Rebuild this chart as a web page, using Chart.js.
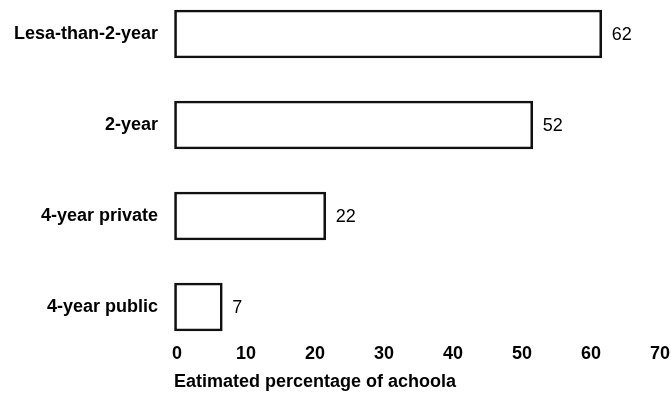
<!DOCTYPE html>
<html>
<head>
<meta charset="utf-8">
<script src="https://cdn.jsdelivr.net/npm/chart.js@4/dist/chart.umd.min.js"></script>
<style>
  html, body { margin: 0; padding: 0; background: #fff; }
</style>
</head>
<body>
<canvas id="chart" width="671" height="397"></canvas>
<script>
const categories = ['Lesa-than-2-year', '2-year', '4-year private', '4-year public'];
const percentages = [62, 52, 22, 7];
const xMin = 0;
const xMax = 70;
const xStep = 10;
const axisTitle = 'Eatimated percentage of achoola';

// writes the value just right of each bar
const valueLabels = {
    id: 'valueLabels',
    afterDatasetsDraw(chart) {
        const ctx = chart.ctx;
        ctx.save();
        ctx.font = '18px "Liberation Sans", Arial, sans-serif';
        ctx.fillStyle = '#000';
        ctx.textAlign = 'left';
        ctx.textBaseline = 'middle';
        chart.getDatasetMeta(0).data.forEach((bar, i) => {
            ctx.fillText(String(percentages[i]), bar.x + 10, bar.y + 1);
        });
        ctx.restore();
    }
};

const boldFont = { family: '"Liberation Sans", Arial, sans-serif', size: 18, weight: 'bold' };

new Chart(document.getElementById('chart'), {
    type: 'bar',
    data: {
        labels: categories,
        datasets: [{
            data: percentages,
            backgroundColor: 'rgba(255,255,255,0)',
            borderColor: '#111',
            borderWidth: 2,
            borderSkipped: false,
            barThickness: 48,
            clip: false
        }]
    },
    options: {
        indexAxis: 'y',
        responsive: false,
        animation: false,
        layout: { padding: { top: 34, right: 14, bottom: 0, left: 0 } },
        plugins: {
            legend: { display: false },
            tooltip: { enabled: false }
        },
        scales: {
            x: {
                min: xMin,
                max: xMax,
                // invisible tick marks push the labels down below the last bar
                grid: { display: true, color: 'rgba(0,0,0,0)', drawOnChartArea: false, drawTicks: true, tickLength: 33 },
                border: { display: false },
                ticks: { stepSize: xStep, color: '#000', font: boldFont, padding: 3, labelOffset: 3, maxRotation: 0 },
                title: {
                    display: true,
                    text: axisTitle,
                    align: 'start',
                    color: '#000',
                    font: boldFont,
                    padding: { top: 0, bottom: 4 }
                },
                afterFit(scale) { scale.height = 90; }
            },
            y: {
                offset: false,
                grid: { display: false, drawTicks: false },
                border: { display: false },
                ticks: { color: '#000', font: boldFont, padding: 16 },
                afterFit(scale) { scale.width = 174; }
            }
        }
    },
    plugins: [valueLabels]
});
</script>
</body>
</html>
